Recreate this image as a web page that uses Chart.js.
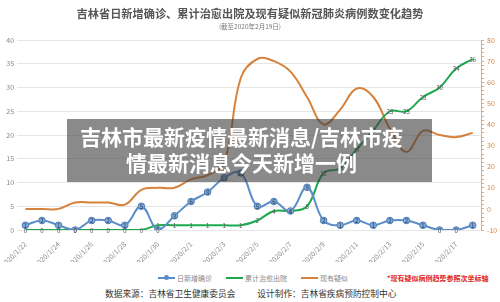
<!DOCTYPE html>
<html>
<head>
<meta charset="utf-8">
<script src="https://cdn.jsdelivr.net/npm/chart.js@4/dist/chart.umd.min.js"></script>
<style>
  html, body { margin: 0; padding: 0; background: #fff; }
  #wrap { position: relative; width: 500px; height: 302px; overflow: hidden; font-family: "Noto Sans CJK SC", sans-serif; }
  #box  { position: absolute; left: 0; top: 0; width: 500px; height: 262px; }
  .title { position: absolute; left: 0; width: 500px; top: 6px; text-align: center; font-size: 11.2px; font-weight: bold; color: #555; line-height: 14px; }
  .sub   { position: absolute; left: 0; width: 500px; top: 22px; text-align: center; font-size: 6.5px; color: #777; line-height: 9px; }
  .legend { position: absolute; top: 272px; left: 158px; height: 12px; display: flex; align-items: center; font-size: 7px; color: #888; white-space: nowrap; }
  .legend .ln { display: inline-block; width: 17px; height: 2px; margin-right: 2px; position: relative; }
  .legend .dot { position: absolute; left: 6px; top: -2px; width: 5px; height: 5px; border-radius: 50%; }
  .legend .item { display: flex; align-items: center; margin-right: 14px; }
  .note { position: absolute; top: 272px; left: 387px; font-size: 7px; line-height: 12px; color: #e02525; font-weight: bold; white-space: nowrap; }
  .foot { position: absolute; top: 288px; left: 105px; font-size: 8.7px; line-height: 12px; color: #333; white-space: nowrap; }
  .foot span + span { margin-left: 22px; }
  .overlay { position: absolute; left: 67px; top: 119px; width: 349px; height: 59px; padding: 4px 16px 0 0; background: rgba(60,60,60,0.6);
             color: #fff; font-weight: bold; font-size: 21px; line-height: 26px; text-align: center; white-space: nowrap; }
</style>
</head>
<body>
<div id="wrap">
  <div id="box"><canvas id="c"></canvas></div>
  <div class="title">吉林省日新增确诊、累计治愈出院及现有疑似新冠肺炎病例数变化趋势</div>
  <div class="sub">(截至2020年2月19日)</div>
  <div class="legend">
    <div class="item"><span class="ln" style="background:#5b8dc9"><span class="dot" style="background:#5b8dc9"></span></span>日新增确诊</div>
    <div class="item"><span class="ln" style="background:#1ea94f"></span>累计治愈出院</div>
    <div class="item"><span class="ln" style="background:#d7823c"></span>现有疑似</div>
  </div>
  <div class="note">*现有疑似病例趋势参照次坐标轴</div>
  <div class="foot"><span>数据来源：吉林省卫生健康委员会</span><span>设计制作：吉林省疾病预防控制中心</span></div>
  <div class="overlay">吉林市最新疫情最新消息/吉林市疫<br>情最新消息今天新增一例</div>
</div>
<script>
// ── data ──────────────────────────────────────────────────────────────────────
const dates = [
  '2020/1/22','2020/1/23','2020/1/24','2020/1/25','2020/1/26','2020/1/27','2020/1/28',
  '2020/1/29','2020/1/30','2020/1/31','2020/2/1','2020/2/2','2020/2/3','2020/2/4',
  '2020/2/5','2020/2/6','2020/2/7','2020/2/8','2020/2/9','2020/2/10','2020/2/11',
  '2020/2/12','2020/2/13','2020/2/14','2020/2/15','2020/2/16','2020/2/17','2020/2/18',
]
const newCases  = [1,2,1,0,2,2,1,5,0,3,6,8,11,12, 5,6,4,9,2,1,2,1,2,2,1,0,0,1]
const cured     = [0,0,0,0,0,0,0,0,1,1,1,1,1,1, 2,4,4,5,12,13,17,21,25,25,28,30,34,36]
const suspected = [0,0,0,3,3,3,2,9,10,10,14,16,22,62, 71,70,65,53,40,47,57,53,38,27,37,35,34,36]

const BLUE = '#5b8dc9', GREEN = '#1ea94f', ORANGE = '#d7823c'

Chart.defaults.font.family = '"Noto Sans CJK SC", sans-serif'

// ── value labels on points ────────────────────────────────────────────────────
const pointLabels = {
  id: 'pointLabels',
  afterDatasetsDraw(chart) {
    const { ctx } = chart
    chart.data.datasets.forEach((ds, di) => {
      if (!ds._labelColor) return
      const meta = chart.getDatasetMeta(di)
      ctx.save()
      ctx.font = '6px "Noto Sans CJK SC", sans-serif'
      ctx.fillStyle = ds._labelColor
      ctx.textAlign = 'center'
      ctx.textBaseline = 'middle'
      meta.data.forEach((pt, j) => ctx.fillText(String(ds.data[j]), pt.x, pt.y + 0.5))
      ctx.restore()
    })
  }
}

new Chart(document.getElementById('c'), {
  type: 'line',
  data: {
    labels: dates,
    datasets: [
      {
        data: newCases, yAxisID: 'y',
        borderColor: BLUE, borderWidth: 2, tension: 0.4,
        pointRadius: 3.3, pointBackgroundColor: '#7ea6d6', pointBorderColor: '#4f7fb8', pointBorderWidth: 1,
        _labelColor: '#2a3d55',
      },
      {
        data: cured, yAxisID: 'y',
        borderColor: GREEN, borderWidth: 2, tension: 0.4,
        pointRadius: 0,
        _labelColor: '#555',
      },
      {
        data: suspected, yAxisID: 'y1',
        borderColor: ORANGE, borderWidth: 2, tension: 0.4,
        pointRadius: 0,
      },
    ],
  },
  options: {
    responsive: true,
    maintainAspectRatio: false,
    animation: false,
    layout: { padding: { top: 40, left: 0, right: 0, bottom: 0 } },
    plugins: { legend: { display: false }, tooltip: { enabled: false } },
    scales: {
      x: {
        offset: true,
        grid: { display: false },
        border: { display: false },
        ticks: {
          autoSkip: false, maxRotation: 45, minRotation: 45, padding: 2,
          color: '#888', font: { size: 7 },
          callback: (v, i) => i % 2 === 0 ? dates[i] : '',
        },
        afterFit: s => { s.height = 32 },
      },
      y: {
        position: 'left', min: 0, max: 40,
        ticks: { stepSize: 5, color: '#888', font: { size: 7 }, padding: 3 },
        grid: { color: '#e6e6e6', drawTicks: false },
        border: { display: false },
        afterFit: s => { s.width = 17 },
      },
      y1: {
        position: 'right', min: -10, max: 80,
        ticks: {
          stepSize: 2, color: ORANGE, font: { size: 7 }, padding: 3, autoSkip: false,
          callback: v => v % 10 === 0 ? v : '',
        },
        grid: { drawOnChartArea: false, color: '#e8a878', tickLength: 3 },
        border: { color: '#e8a878' },
        afterFit: s => { s.width = 19 },
      },
    },
  },
  plugins: [pointLabels],
})
</script>
</body>
</html>
